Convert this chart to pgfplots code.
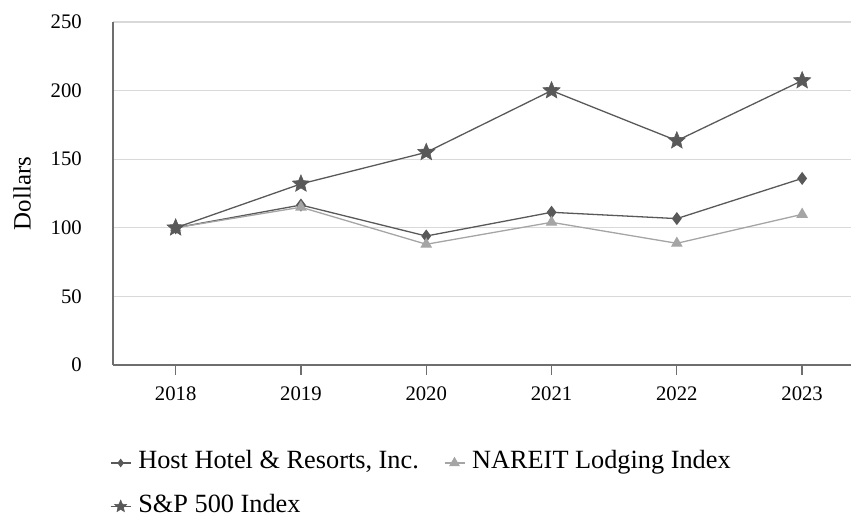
\documentclass[border=0pt]{standalone}
\usepackage{pgfplots}
\pgfplotsset{compat=1.18}
\usepackage{fontspec}
\setmainfont{Liberation Serif}
\definecolor{dk}{HTML}{595959}
\definecolor{lt}{HTML}{A5A5A5}
\definecolor{gridc}{HTML}{D9D9D9}
\definecolor{axc}{HTML}{6E6E6E}
\pgfdeclareplotmark{fstar}{%
  \pgfpathmoveto{\pgfpointpolar{90}{\pgfplotmarksize}}%
  \pgfpathlineto{\pgfpointpolar{126}{0.45\pgfplotmarksize}}%
  \pgfpathlineto{\pgfpointpolar{162}{\pgfplotmarksize}}%
  \pgfpathlineto{\pgfpointpolar{198}{0.45\pgfplotmarksize}}%
  \pgfpathlineto{\pgfpointpolar{234}{\pgfplotmarksize}}%
  \pgfpathlineto{\pgfpointpolar{270}{0.45\pgfplotmarksize}}%
  \pgfpathlineto{\pgfpointpolar{306}{\pgfplotmarksize}}%
  \pgfpathlineto{\pgfpointpolar{342}{0.45\pgfplotmarksize}}%
  \pgfpathlineto{\pgfpointpolar{18}{\pgfplotmarksize}}%
  \pgfpathlineto{\pgfpointpolar{54}{0.45\pgfplotmarksize}}%
  \pgfpathclose
  \pgfusepathqfillstroke}
\begin{document}
\begin{tikzpicture}
\begin{axis}[
  at={(113pt,152pt)}, anchor=south west,
  scale only axis, width=738pt, height=343pt,
  xmin=-0.5, xmax=5.39, ymin=0, ymax=250,
  axis x line=bottom, axis y line=left,
  axis line style={-, draw=axc, line width=1.3pt},
  xtick={0,...,5}, xticklabels={2018,2019,2020,2021,2022,2023},
  ytick={0,50,...,250},
  tick align=outside,
  major tick length=10pt,
  xtick style={draw=axc, line width=1.3pt},
  ytick style={draw=none},
  ymajorgrids, grid style={draw=gridc, line width=1.3pt},
  /pgf/number format/assume math mode=true,
  tick label style={font=\fontsize{20.7}{24}\selectfont, inner sep=0pt},
  yticklabel style={xshift=-21pt},
  xticklabel style={yshift=-12pt},
  ylabel={Dollars},
  ylabel style={font=\fontsize{24.9}{28}\selectfont, at={(axis description cs:-0.1233,0.5)}, anchor=center},
  clip=false,
  legend style={at={(axis description cs:-0.004,-0.2507)}, anchor=north west,
    draw=none, fill=none, inner sep=0pt, outer sep=0pt,
    font=\fontsize{26.3}{30}\selectfont,
    nodes={inner sep=0pt, text height=18pt, text depth=6pt},
    row sep=19.5pt,
    /tikz/every odd column/.append style={column sep=7pt},
    /tikz/every even column/.append style={column sep=25pt}},
  legend columns=2, legend cell align=left,
  every axis plot/.append style={line width=1.3pt},
]
\addplot[color=dk, mark=diamond*, mark size=5.5pt, mark options={fill=dk, draw=dk},
  legend image code/.code={\draw[mark repeat=2,mark phase=2, every mark/.append style={scale=0.6}] plot coordinates {(0pt,0pt)(10pt,0pt)(20pt,0pt)};}] coordinates {
  (0,100) (1,116.6) (2,94) (3,111.3) (4,106.7) (5,136)};
\addlegendentry{Host Hotel \& Resorts, Inc.}
\addplot[color=lt, mark=triangle*, mark size=5.5pt, mark options={fill=lt, draw=lt},
  legend image code/.code={\draw[mark repeat=2,mark phase=2, every mark/.append style={scale=0.9}] plot coordinates {(0pt,0pt)(10pt,0pt)(20pt,0pt)};}] coordinates {
  (0,100) (1,115) (2,88) (3,104) (4,88.7) (5,109.8)};
\addlegendentry{NAREIT Lodging Index}
\addplot[color=dk, mark=fstar, mark size=9pt, mark options={fill=dk, draw=dk, line width=0.6pt},
  legend image code/.code={\draw[mark repeat=2,mark phase=2, every mark/.append style={scale=0.7}] plot coordinates {(0pt,0pt)(10pt,0pt)(20pt,0pt)};}] coordinates {
  (0,100) (1,132) (2,155) (3,200) (4,163.5) (5,207.3)};
\addlegendentry{S\&P 500 Index}
\end{axis}
\pgfresetboundingbox
\path (0,0) rectangle (851pt,517pt);
\end{tikzpicture}
\end{document}
